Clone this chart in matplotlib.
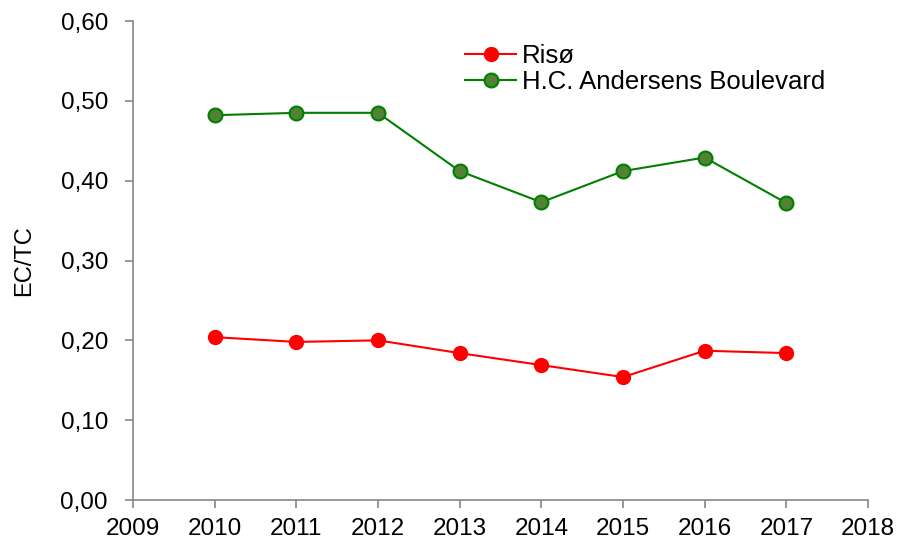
import matplotlib.pyplot as plt
from matplotlib.ticker import FuncFormatter

plt.rcParams['font.family'] = ['Liberation Sans', 'DejaVu Sans']

years = [2010, 2011, 2012, 2013, 2014, 2015, 2016, 2017]
riso = [0.204, 0.198, 0.200, 0.184, 0.169, 0.154, 0.187, 0.184]
hcab = [0.482, 0.485, 0.485, 0.412, 0.373, 0.412, 0.429, 0.372]

fig = plt.figure(figsize=(9.09, 5.5), dpi=100)
ax = fig.add_axes([0.1463, 0.0909, 0.8086, 0.8709])

ax.plot(years, riso, color='#ff0000', lw=1.5, marker='o', ms=10,
        mfc='#ff0000', mec='#ff0000', label='Risø')
ax.plot(years, hcab, color='#008000', lw=1.5, marker='o', ms=10,
        mfc='#538135', mec='#008000', mew=1.5, label='H.C. Andersens Boulevard')

ax.set_xlim(2009, 2018)
ax.set_ylim(0, 0.6)
ax.set_xticks(range(2009, 2019))
ax.set_yticks([0, 0.1, 0.2, 0.3, 0.4, 0.5, 0.6])
ax.yaxis.set_major_formatter(FuncFormatter(lambda v, p: f'{v:.2f}'.replace('.', ',')))

for s in ['top', 'right']:
    ax.spines[s].set_visible(False)
for s in ['left', 'bottom']:
    ax.spines[s].set_color('#868686')
    ax.spines[s].set_linewidth(1.2)
ax.tick_params(direction='out', length=6, width=1.2, color='#868686',
               labelsize=17.5)
ax.tick_params(axis='y', pad=12)
ax.tick_params(axis='x', pad=7)
ax.set_ylabel('EC/TC', fontsize=17, labelpad=18)

ax.legend(loc='upper left', bbox_to_anchor=(452 / 909, 1 - 31 / 550),
          bbox_transform=fig.transFigure, frameon=False, borderpad=0,
          fontsize=18.5, handlelength=2.0, handletextpad=0.23, labelspacing=0.1)

fig.savefig('out.png', dpi=100)
